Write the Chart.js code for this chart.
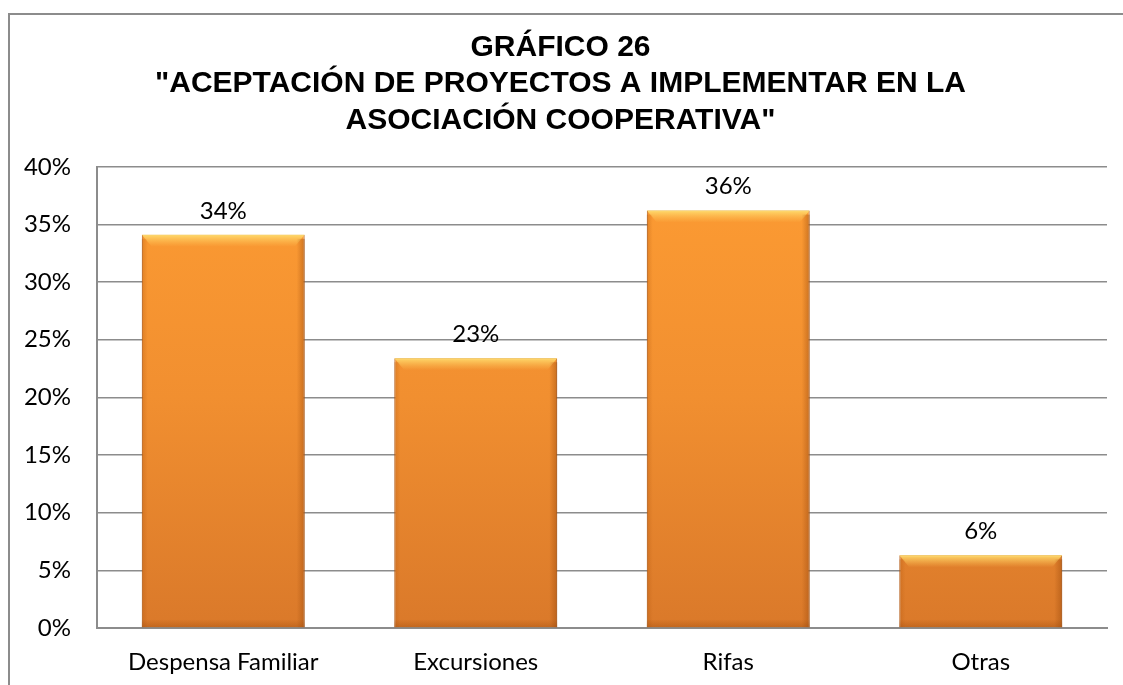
<!DOCTYPE html>
<html>
<head>
<meta charset="utf-8">
<script src="https://cdn.jsdelivr.net/npm/chart.js@4"></script>
<style>
  html, body { margin: 0; padding: 0; background: #fff; }
  #wrap { position: relative; width: 1123px; height: 685px; overflow: hidden; }
  #frame { position: absolute; left: 8px; top: 13px; width: 1130px; height: 700px; border: 2px solid #8c8c8c; box-sizing: border-box; }
  canvas { position: absolute; left: 0; top: 0; }
</style>
</head>
<body>
<div id="wrap">
  <div id="frame"></div>
  <canvas id="chart" width="1123" height="685"></canvas>
</div>
<script>
// chart data
const categories = ['Despensa Familiar', 'Excursiones', 'Rifas', 'Otras'];
const values = [34.1, 23.4, 36.2, 6.3];
const valueLabels = ['34%', '23%', '36%', '6%'];
const titleLines = ['GRÁFICO 26', '"ACEPTACIÓN DE PROYECTOS A IMPLEMENTAR EN LA', 'ASOCIACIÓN COOPERATIVA"'];

const labelFont = "Lato, 'Noto Sans', sans-serif";

// orange vertical gradient for the bars
function barFill(context) {
  const area = context.chart.chartArea;
  if (!area) return '#f7962f';
  const g = context.chart.ctx.createLinearGradient(0, area.top, 0, area.bottom);
  g.addColorStop(0, '#fd9c33');
  g.addColorStop(0.5, '#f18f30');
  g.addColorStop(1, '#da792a');
  return g;
}

// bevel look + value labels above each bar
const barExtras = {
  id: 'barExtras',
  afterDatasetsDraw(chart) {
    const ctx = chart.ctx;
    const meta = chart.getDatasetMeta(0);
    meta.data.forEach((bar, i) => {
      const left = bar.x - bar.width / 2;
      const right = bar.x + bar.width / 2;
      const top = bar.y;
      const bottom = bar.base;
      ctx.save();
      // top highlight
      let g = ctx.createLinearGradient(0, top, 0, top + 12);
      g.addColorStop(0, 'rgba(255,220,110,0.95)');
      g.addColorStop(1, 'rgba(255,200,90,0)');
      ctx.fillStyle = g;
      ctx.beginPath();
      ctx.moveTo(left, top);
      ctx.lineTo(right, top);
      ctx.lineTo(right - 10, top + 12);
      ctx.lineTo(left + 10, top + 12);
      ctx.closePath();
      ctx.fill();
      // right shade
      g = ctx.createLinearGradient(right - 8, 0, right, 0);
      g.addColorStop(0, 'rgba(150,70,10,0)');
      g.addColorStop(1, 'rgba(150,70,10,0.45)');
      ctx.fillStyle = g;
      ctx.fillRect(right - 8, top + 4, 8, bottom - top - 4);
      // left shade
      g = ctx.createLinearGradient(left, 0, left + 6, 0);
      g.addColorStop(0, 'rgba(170,80,10,0.3)');
      g.addColorStop(1, 'rgba(170,80,10,0)');
      ctx.fillStyle = g;
      ctx.fillRect(left, top + 4, 6, bottom - top - 4);
      // bottom shade
      g = ctx.createLinearGradient(0, bottom - 8, 0, bottom);
      g.addColorStop(0, 'rgba(150,70,10,0)');
      g.addColorStop(1, 'rgba(150,70,10,0.35)');
      ctx.fillStyle = g;
      ctx.fillRect(left, bottom - 8, right - left, 8);
      // value label
      ctx.fillStyle = '#000';
      ctx.font = '24px ' + labelFont;
      ctx.textAlign = 'center';
      ctx.textBaseline = 'middle';
      ctx.fillText(valueLabels[i], bar.x, top - 24);
      ctx.restore();
    });
  }
};

new Chart(document.getElementById('chart'), {
  type: 'bar',
  data: {
    labels: categories,
    datasets: [{
      data: values,
      backgroundColor: barFill,
      borderColor: '#b8621c',
      borderWidth: 1,
      barPercentage: 0.645,
      categoryPercentage: 1
    }]
  },
  options: {
    responsive: false,
    animation: false,
    layout: { padding: { left: 14, right: 16, top: 14, bottom: 8 } },
    plugins: {
      legend: { display: false },
      tooltip: { enabled: false },
      title: {
        display: true,
        text: titleLines,
        color: '#000',
        font: { family: "'Liberation Sans', Arial, sans-serif", size: 30, weight: 'bold', lineHeight: 1.22 },
        padding: { top: 15, bottom: 28 }
      }
    },
    scales: {
      x: {
        afterFit(scale) { scale.height = 49; },
        grid: { display: false, drawTicks: false },
        border: { display: true, color: '#8c8c8c', width: 2 },
        ticks: { color: '#000', font: { family: labelFont, size: 24 }, padding: 20 }
      },
      y: {
        min: 0,
        max: 40,
        afterFit(scale) { scale.width = 83; },
        grid: { color: '#8c8c8c', lineWidth: 1.5, drawTicks: false },
        border: { display: true, color: '#8c8c8c', width: 2 },
        ticks: {
          stepSize: 5,
          color: '#000',
          padding: 26,
          font: { family: labelFont, size: 24 },
          callback: v => v + '%'
        }
      }
    }
  },
  plugins: [barExtras]
});
</script>
</body>
</html>
